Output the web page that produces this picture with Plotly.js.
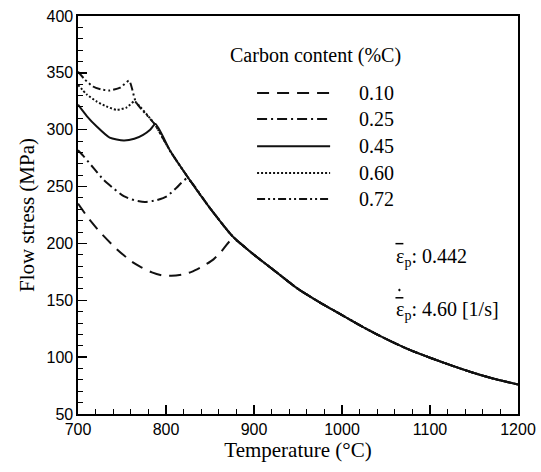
<!DOCTYPE html>
<html><head><meta charset="utf-8">
<script src="https://cdn.plot.ly/plotly-3.0.1.min.js"></script>
<style>html,body{margin:0;padding:0;background:#fff}#chart{width:541px;height:472px}</style>
</head><body><div id="chart"></div>
<script>
// Carbon contents (legend labels)
const carbonLabels = ['0.10', '0.25', '0.45', '0.60', '0.72'];

// Branch before joining the common curve (temperature °C, flow stress MPa)
const tempC010 = [700, 712, 725, 744, 761, 772, 784, 795, 806, 818, 829, 842, 854, 863, 876];
const stressC010 = [235, 222, 210, 195, 184, 179, 174.5, 172, 171.5, 172.5, 175, 180, 186, 193, 204];

const tempC025 = [700, 706, 718, 729, 741, 752, 764, 776, 789, 801, 812, 824];
const stressC025 = [282, 277, 266, 256, 248, 241.5, 238, 236.5, 238, 241.5, 249, 257];

const tempC045 = [700, 710, 721, 736, 752, 764, 774, 782, 788];
const stressC045 = [322, 312, 303, 293, 290.5, 292, 295.5, 300, 305];

const tempC060 = [700, 710, 721, 732, 744, 755, 764];
const stressC060 = [339.5, 331, 325, 320.5, 317.5, 319.5, 325];

const tempC072 = [700, 708, 717, 726, 736, 748, 758, 766];
const stressC072 = [351, 344, 338, 335.5, 334.5, 337, 343, 324];

// Common (austenite) curve shared by all contents above their transition
const tempCommon = [766, 787, 805, 825, 850, 876, 900, 925, 950, 975, 1000, 1025, 1050, 1075, 1100, 1125, 1150, 1175, 1200];
const stressCommon = [324, 305, 281, 258, 231, 206, 190, 175, 160, 148, 137, 126, 116, 107, 99.5, 92.5, 86, 80.5, 76];

// Axis tick values
const xTicks = [700, 800, 900, 1000, 1100, 1200];
const yTicks = [50, 100, 150, 200, 250, 300, 350, 400];

const branchT = [tempC010, tempC025, tempC045, tempC060, tempC072];
const branchS = [stressC010, stressC025, stressC045, stressC060, stressC072];
const dashes = ['12px,8px', '10px,4px,2px,4px', 'solid', '2px,2px', '8px,3px,2px,3px,2px,3px'];

function joined(t, s) {
  const last = t[t.length - 1];
  const xt = t.slice(), ys = s.slice();
  tempCommon.forEach((v, i) => { if (v > last + 1) { xt.push(v); ys.push(stressCommon[i]); } });
  return [xt, ys];
}

const traces = carbonLabels.map((lab, i) => {
  const [x, y] = joined(branchT[i], branchS[i]);
  return { x, y, type: 'scatter', mode: 'lines', name: lab, showlegend: false,
    line: { color: '#111', width: 2, dash: dashes[i], shape: 'spline', smoothing: 0.6 } };
});

const serif = 'Liberation Serif';
const sans = 'Liberation Sans';

// legend drawn in paper coordinates
const legendY = [0.8065, 0.741, 0.673, 0.6055, 0.540];
const shapes = [], annotations = [];
carbonLabels.forEach((lab, i) => {
  shapes.push({ type: 'line', xref: 'paper', yref: 'paper', x0: 0.407, x1: 0.573, y0: legendY[i], y1: legendY[i],
    line: { color: '#111', width: 2, dash: dashes[i] } });
  annotations.push({ xref: 'paper', yref: 'paper', x: 0.634, y: legendY[i], xanchor: 'left', yanchor: 'middle',
    text: lab, showarrow: false, font: { family: serif, size: 20, color: '#000' } });
});
annotations.push({ xref: 'paper', yref: 'paper', x: 0.539, y: 0.902, xanchor: 'center', yanchor: 'middle',
  text: 'Carbon content (%C)', showarrow: false, font: { family: serif, size: 20, color: '#000' } });
annotations.push({ xref: 'paper', yref: 'paper', x: 0.718, y: 0.392, xanchor: 'left', yanchor: 'middle',
  text: 'ε<sub>p</sub>: 0.442', showarrow: false, font: { family: serif, size: 20, color: '#000' } });
annotations.push({ xref: 'paper', yref: 'paper', x: 0.718, y: 0.260, xanchor: 'left', yanchor: 'middle',
  text: 'ε<sub>p</sub>: 4.60 [1/s]', showarrow: false, font: { family: serif, size: 20, color: '#000' } });
// bar and dot accents over epsilon
shapes.push({ type: 'line', xref: 'paper', yref: 'paper', x0: 0.7215, x1: 0.7395, y0: 0.428, y1: 0.428, line: { color: '#000', width: 1.5 } });
shapes.push({ type: 'line', xref: 'paper', yref: 'paper', x0: 0.7215, x1: 0.7395, y0: 0.292, y1: 0.292, line: { color: '#000', width: 1.5 } });
shapes.push({ type: 'circle', xref: 'paper', yref: 'paper', x0: 0.7285, x1: 0.7325, y0: 0.309, y1: 0.314, fillcolor: '#000', line: { color: '#000', width: 0.5 } });

const layout = {
  width: 541, height: 472,
  margin: { l: 78, r: 23, t: 16, b: 58 },
  paper_bgcolor: '#fff', plot_bgcolor: '#fff',
  showlegend: false,
  xaxis: {
    range: [700, 1200], tickvals: xTicks, ticktext: xTicks.map(String),
    ticks: 'inside', ticklen: 9, tickwidth: 1.3, tickcolor: '#000',
    minor: { dtick: 20, ticks: 'inside', ticklen: 5, tickwidth: 1, tickcolor: '#000', showgrid: false },
    showline: true, linecolor: '#000', linewidth: 1.6, mirror: true, showgrid: false, zeroline: false,
    tickfont: { family: sans, size: 16, color: '#000' },
    title: { text: 'Temperature (°C)', font: { family: serif, size: 21, color: '#000' }, standoff: 4 }
  },
  yaxis: {
    range: [50, 400], tickvals: yTicks, ticktext: yTicks.map(String),
    ticks: 'inside', ticklen: 9, tickwidth: 1.3, tickcolor: '#000',
    minor: { dtick: 10, ticks: 'inside', ticklen: 5, tickwidth: 1, tickcolor: '#000', showgrid: false },
    showline: true, linecolor: '#000', linewidth: 1.6, mirror: true, showgrid: false, zeroline: false,
    tickfont: { family: sans, size: 16, color: '#000' },
    title: { text: 'Flow stress (MPa)', font: { family: serif, size: 21, color: '#000' }, standoff: 6 }
  },
  shapes, annotations
};

Plotly.newPlot('chart', traces, layout, { staticPlot: true, displayModeBar: false });
</script></body></html>
